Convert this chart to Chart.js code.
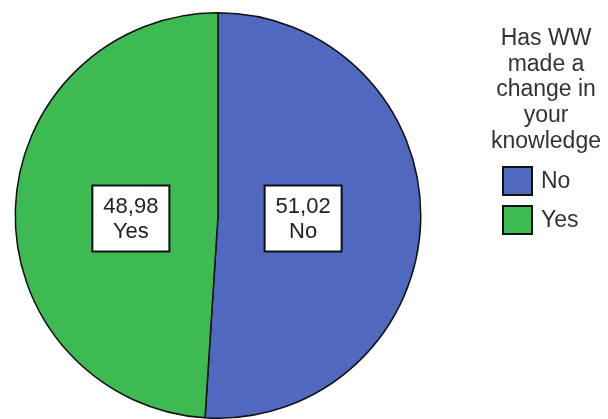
<!DOCTYPE html>
<html>
<head>
<meta charset="utf-8">
<script src="https://cdn.jsdelivr.net/npm/chart.js@4/dist/chart.umd.min.js"></script>
<style>
  html, body { margin: 0; padding: 0; background: #fff; }
  #pie { display: block; }
</style>
</head>
<body>
<canvas id="pie" width="608" height="419"></canvas>
<script>
  const categories = ['No', 'Yes'];
  const percents = [51.02, 48.98];
  const sliceColors = ['#5069BE', '#3DBB52'];
  const legendTitle = ['Has WW', 'made a', 'change in', 'your', 'knowledge'];

  function fmt(v) {
    return v.toFixed(2).replace('.', ',');
  }

  // --- slice labels (boxed value + category) ---
  const sliceLabels = {
    id: 'sliceLabels',
    afterDatasetsDraw(chart) {
      const ctx = chart.ctx;
      const meta = chart.getDatasetMeta(0);
      ctx.save();
      ctx.font = '22px "Liberation Sans", Arial, sans-serif';
      ctx.textAlign = 'center';
      ctx.textBaseline = 'middle';
      meta.data.forEach(function(arc, i) {
        const mid = (arc.startAngle + arc.endAngle) / 2;
        const r = arc.outerRadius * 0.425;
        const cx = arc.x + Math.cos(mid) * r - 1;
        const cy = arc.y + 3;
        const w = 77, h = 66;
        ctx.fillStyle = '#fff';
        ctx.fillRect(cx - w / 2, cy - h / 2, w, h);
        ctx.lineWidth = 2;
        ctx.strokeStyle = '#111';
        ctx.strokeRect(cx - w / 2, cy - h / 2, w, h);
        ctx.fillStyle = '#222';
        ctx.fillText(fmt(chart.data.datasets[0].data[i]), cx, cy - 12);
        ctx.fillText(chart.data.labels[i], cx, cy + 13);
      });
      ctx.restore();
    }
  };

  // --- legend on the right, with a multi-line title ---
  const sideLegend = {
    id: 'sideLegend',
    afterDraw(chart) {
      const ctx = chart.ctx;
      const ds = chart.data.datasets[0];
      ctx.save();
      ctx.font = '23px "Liberation Sans", Arial, sans-serif';
      ctx.fillStyle = '#333';
      ctx.textAlign = 'center';
      ctx.textBaseline = 'alphabetic';
      legendTitle.forEach(function(line, i) {
        ctx.fillText(line, 546, 45 + i * 25.7);
      });
      ctx.textAlign = 'left';
      ctx.textBaseline = 'middle';
      chart.data.labels.forEach(function(lab, i) {
        const y = 167 + i * 39;
        ctx.fillStyle = ds.backgroundColor[i];
        ctx.fillRect(503, y, 29, 28);
        ctx.lineWidth = 2;
        ctx.strokeStyle = '#111';
        ctx.strokeRect(503, y, 29, 28);
        ctx.fillStyle = '#333';
        ctx.fillText(lab, 541, y + 15);
      });
      ctx.restore();
    }
  };

  function drawChart() {
    const ctx = document.getElementById('pie').getContext('2d');
    new Chart(ctx, {
      type: 'pie',
      data: {
        labels: categories,
        datasets: [{
          data: percents,
          backgroundColor: sliceColors,
          borderColor: '#111',
          borderWidth: 1.5
        }]
      },
      options: {
        responsive: false,
        animation: false,
        layout: { padding: { top: 12, bottom: 0, left: 14, right: 186 } },
        plugins: {
          legend: { display: false },
          tooltip: { enabled: false }
        }
      },
      plugins: [sliceLabels, sideLegend]
    });
  }

  window.onload = drawChart;
</script>
</body>
</html>
